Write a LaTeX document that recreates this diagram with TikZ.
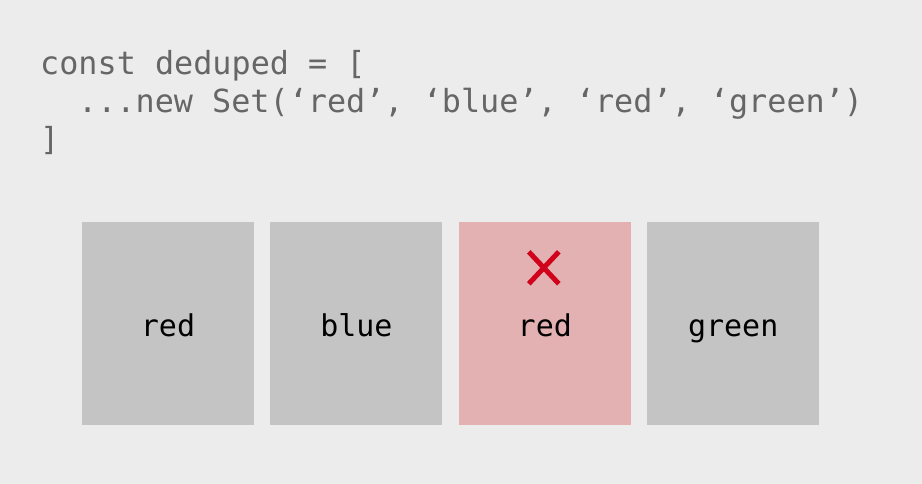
\documentclass[tikz,border=0pt]{standalone}
\usepackage{fontspec}
\setmonofont{DejaVu Sans Mono}
\usetikzlibrary{positioning}
\definecolor{bgGray}{HTML}{ECECEC}
\definecolor{codeGray}{HTML}{666666}
\definecolor{cellGray}{HTML}{C4C4C4}
\definecolor{dupPink}{HTML}{E3B1B1}
\definecolor{crossRed}{HTML}{D0021B}

\begin{document}
\begin{tikzpicture}[
    x=1pt, y=-1pt,
    node distance=16pt,
    codeline/.style={anchor=base west, inner sep=0pt, text=codeGray,
                font=\ttfamily\fontsize{31.8}{39}\selectfont},
    cell/.style={fill=cellGray, minimum width=172pt, minimum height=203pt,
                inner sep=0pt, text height=25pt, text depth=0pt,
                font=\ttfamily\fontsize{30}{36}\selectfont},
    dupcell/.style={cell, fill=dupPink},
    crossline/.style={crossRed, line width=5pt}
]
\fill[bgGray] (0,0) rectangle (922,484);
\useasboundingbox (0,0) rectangle (922,484);

% code
\node[codeline] (l1) at (40,75) {const deduped = [};
\node[codeline] (l2) at (78,113) {...new Set(‘red’, ‘blue’, ‘red’, ‘green’)};
\node[codeline] (l3) at (40,151) {]};

% set entries
\node[cell] (c1) at (168,323.5) {red};
\node[cell, right=of c1] (c2) {blue};
\node[dupcell, right=of c2] (c3) {red};
\node[cell, right=of c3] (c4) {green};

% duplicate mark
\coordinate (x) at ([xshift=-1pt,yshift=-46pt]c3.north);
\draw[crossline] ([shift={(-15pt,-16pt)}]x) -- ([shift={(15pt,16pt)}]x);
\draw[crossline] ([shift={(-15pt,16pt)}]x) -- ([shift={(15pt,-16pt)}]x);
\end{tikzpicture}
\end{document}
